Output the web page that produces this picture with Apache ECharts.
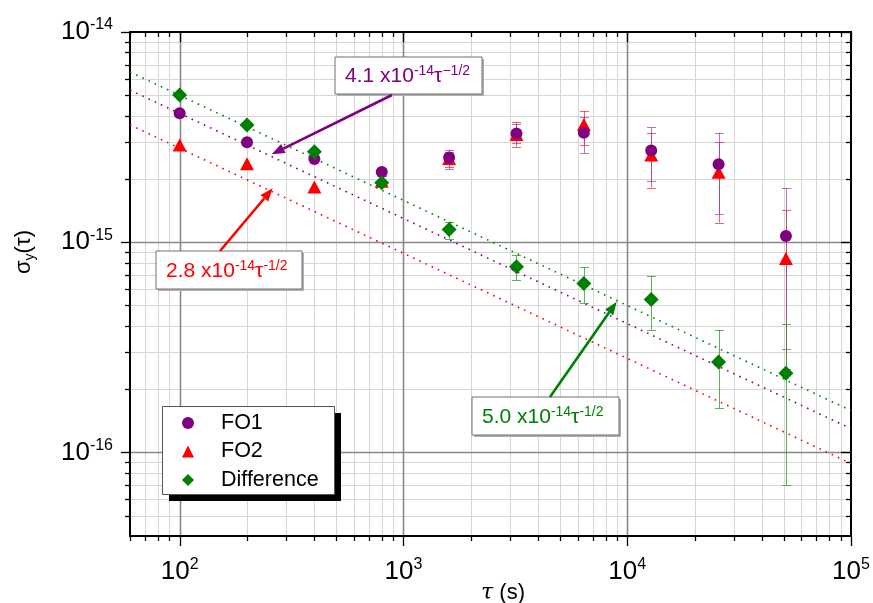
<!DOCTYPE html>
<html>
<head>
<meta charset="utf-8">
<script src="https://cdn.jsdelivr.net/npm/echarts@6/dist/echarts.min.js"></script>
<style>
html,body{margin:0;padding:0;background:#fff;}
#c{width:873px;height:603px;}
</style>
</head>
<body>
<div id="c"></div>
<script>
// ---------- data ----------
const tau = [100, 200, 400, 800, 1600, 3200, 6400, 12800, 25600, 51200];
const fo1 = [4.11e-15, 2.99e-15, 2.49e-15, 2.16e-15, 2.53e-15, 3.29e-15, 3.32e-15, 2.73e-15, 2.35e-15, 1.07e-15];
const fo2 = [2.9e-15, 2.36e-15, 1.83e-15, 1.95e-15, 2.5e-15, 3.25e-15, 3.63e-15, 2.6e-15, 2.15e-15, 8.36e-16];
const diff = [5.01e-15, 3.61e-15, 2.69e-15, 1.92e-15, 1.15e-15, 7.63e-16, 6.36e-16, 5.33e-16, 2.69e-16, 2.38e-16];

const fo1Lo = [null, null, null, 2.07e-15, 2.23e-15, 2.95e-15, 2.66e-15, 1.95e-15, 1.36e-15, 3.1e-16];
const fo1Hi = [null, null, null, 2.26e-15, 2.76e-15, 3.65e-15, 3.92e-15, 3.52e-15, 3.32e-15, 1.81e-15];
const fo2Lo = [null, null, null, null, 2.28e-15, 2.84e-15, 2.89e-15, 1.82e-15, 1.24e-15, 2.5e-16];
const fo2Hi = [null, null, null, null, 2.68e-15, 3.74e-15, 4.22e-15, 3.29e-15, 3.0e-15, 1.42e-15];
const diffLo = [null, null, null, null, 1.04e-15, 6.6e-16, 5.14e-16, 3.84e-16, 1.62e-16, 6.97e-17];
const diffHi = [null, null, null, null, 1.25e-15, 8.67e-16, 7.58e-16, 6.87e-16, 3.81e-16, 4.06e-16];

// fit lines  sigma = A * tau^-1/2, endpoints at tau = 60 and 1e5
const fitTau = [60, 100000];
const fitGreen = [6.455e-15, 1.581e-16];   // 5.0e-14
const fitPurple = [5.293e-15, 1.2965e-16]; // 4.1e-14
const fitRed = [3.615e-15, 8.854e-17];     // 2.8e-14

// axes
const X_MIN = 60, X_MAX = 100000, Y_MIN = 4e-17, Y_MAX = 1e-14;
const xMajor = [100, 1000, 10000];
const xMinor = [60, 70, 80, 90, 200, 300, 400, 500, 600, 700, 800, 900,
  2000, 3000, 4000, 5000, 6000, 7000, 8000, 9000,
  20000, 30000, 40000, 50000, 60000, 70000, 80000, 90000];
const yMajor = [1e-16, 1e-15];
const yMinor = [5e-17, 6e-17, 7e-17, 8e-17, 9e-17,
  2e-16, 3e-16, 4e-16, 5e-16, 6e-16, 7e-16, 8e-16, 9e-16,
  2e-15, 3e-15, 4e-15, 5e-15, 6e-15, 7e-15, 8e-15, 9e-15];
const xLabelVals = [100, 1000, 10000, 100000];
const xLabelExp = ['2', '3', '4', '5'];
const yLabelVals = [1e-14, 1e-15, 1e-16];
const yLabelExp = ['-14', '-15', '-16'];

const F = '"Liberation Sans", Arial, sans-serif';
const PURPLE = '#800080', RED = '#ff0000', GREEN = '#008000';

function errData(lo, hi) {
  const out = [];
  for (let i = 0; i < tau.length; i++) {
    if (lo[i] != null && hi[i] != null) out.push([tau[i], lo[i], hi[i]]);
  }
  return out;
}
function pairs(xs, ys) { return xs.map((x, i) => [x, ys[i]]); }

function errRender(color) {
  return function (params, api) {
    const x = api.value(0), lo = api.value(1), hi = api.value(2);
    const p1 = api.coord([x, hi]), p2 = api.coord([x, lo]);
    const cx = Math.round(p1[0]) + 0.5, cw = 4.5;
    const st = { stroke: color, lineWidth: 1 };
    return { type: 'group', children: [
      { type: 'line', shape: { x1: cx, y1: p1[1], x2: cx, y2: p2[1] }, style: st },
      { type: 'line', shape: { x1: cx - cw, y1: Math.round(p1[1]) + 0.5, x2: cx + cw, y2: Math.round(p1[1]) + 0.5 }, style: st },
      { type: 'line', shape: { x1: cx - cw, y1: Math.round(p2[1]) + 0.5, x2: cx + cw, y2: Math.round(p2[1]) + 0.5 }, style: st }
    ]};
  };
}

const tickRich = {
  b: { fontSize: 26, lineHeight: 30, fontFamily: F, fill: '#000' },
  e: { fontSize: 16, lineHeight: 16, verticalAlign: 'top', fontFamily: F, fill: '#000' }
};

function axesRender(params, api) {
  const c0 = api.coord([X_MIN, Y_MIN]), c1 = api.coord([X_MAX, Y_MAX]);
  const L = c0[0], B = c0[1], R = c1[0], T = c1[1];
  const ch = [];
  const px = v => Math.round(api.coord([v, Y_MIN])[0]) + 0.5;
  const py = v => Math.round(api.coord([X_MIN, v])[1]) + 0.5;
  // minor grid
  xMinor.forEach(v => { const x = px(v); ch.push({ type: 'line', shape: { x1: x, y1: T, x2: x, y2: B }, style: { stroke: '#d6d6d6', lineWidth: 1 } }); });
  yMinor.forEach(v => { const y = py(v); ch.push({ type: 'line', shape: { x1: L, y1: y, x2: R, y2: y }, style: { stroke: '#d6d6d6', lineWidth: 1 } }); });
  // major grid
  xMajor.forEach(v => { const x = px(v); ch.push({ type: 'line', shape: { x1: x, y1: T, x2: x, y2: B }, style: { stroke: '#888', lineWidth: 1.6 } }); });
  yMajor.forEach(v => { const y = py(v); ch.push({ type: 'line', shape: { x1: L, y1: y, x2: R, y2: y }, style: { stroke: '#888', lineWidth: 1.6 } }); });
  // ticks
  const tk = { stroke: '#000', lineWidth: 1.3 };
  xMinor.forEach(v => { const x = px(v);
    ch.push({ type: 'line', shape: { x1: x, y1: B, x2: x, y2: B + 5 }, style: tk });
    ch.push({ type: 'line', shape: { x1: x, y1: T, x2: x, y2: T + 5 }, style: tk }); });
  xMajor.concat([X_MAX]).forEach(v => { const x = px(v);
    ch.push({ type: 'line', shape: { x1: x, y1: B, x2: x, y2: B + 10 }, style: tk });
    ch.push({ type: 'line', shape: { x1: x, y1: T, x2: x, y2: T + 10 }, style: tk }); });
  yMinor.forEach(v => { const y = py(v);
    ch.push({ type: 'line', shape: { x1: L - 5, y1: y, x2: L, y2: y }, style: tk });
    ch.push({ type: 'line', shape: { x1: R - 5, y1: y, x2: R, y2: y }, style: tk }); });
  yMajor.concat([Y_MAX]).forEach(v => { const y = py(v);
    ch.push({ type: 'line', shape: { x1: L - 9, y1: y, x2: L, y2: y }, style: tk });
    ch.push({ type: 'line', shape: { x1: R - 10, y1: y, x2: R, y2: y }, style: tk }); });
  // frame
  ch.push({ type: 'rect', shape: { x: L, y: T, width: R - L, height: B - T }, style: { fill: 'none', stroke: '#000', lineWidth: 2 } });
  // labels
  xLabelVals.forEach((v, i) => {
    const x = api.coord([v, Y_MIN])[0];
    ch.push({ type: 'text', x: x, y: B + 21, style: { text: '{b|10}{e|' + xLabelExp[i] + '}', rich: tickRich, align: 'center', verticalAlign: 'top' } });
  });
  yLabelVals.forEach((v, i) => {
    const y = api.coord([X_MIN, v])[1];
    ch.push({ type: 'text', x: L - 17, y: y, style: { text: '{b|10}{e|' + yLabelExp[i] + '}', rich: tickRich, align: 'right', verticalAlign: 'middle' } });
  });
  return { type: 'group', children: ch };
}

function arrow(x1, y1, x2, y2, color) {
  const dx = x2 - x1, dy = y2 - y1, len = Math.hypot(dx, dy);
  const ux = dx / len, uy = dy / len, hl = 13, hw = 5;
  const bx = x2 - ux * hl, by = y2 - uy * hl, nx = -uy, ny = ux;
  return [
    { type: 'line', z: 6, shape: { x1: x1, y1: y1, x2: bx, y2: by }, style: { stroke: color, lineWidth: 2.6 } },
    { type: 'polygon', z: 6, shape: { points: [[x2, y2], [bx + nx * hw, by + ny * hw], [bx - nx * hw, by - ny * hw]] }, style: { fill: color } }
  ];
}
function annBox(x, y, w, h, color, coef, expTau) {
  return [
    { type: 'rect', z: 6, shape: { x: x + 2, y: y + 2, width: w, height: h }, style: { fill: '#b0b0b0' } },
    { type: 'rect', z: 6, shape: { x: x, y: y, width: w, height: h }, style: { fill: '#fff', stroke: '#707070', lineWidth: 1 } },
    { type: 'text', z: 7, x: x + 10, y: y + h / 2 + 1, style: {
      text: '{m|' + coef + ' x10}{s|-14}{m|τ}{s|' + expTau + '}',
      align: 'left', verticalAlign: 'middle', fill: color,
      rich: {
        m: { fontSize: 21, lineHeight: 24, fontFamily: F, fill: color },
        s: { fontSize: 14, lineHeight: 10, verticalAlign: 'top', fontFamily: F, fill: color }
      } } }
  ];
}

const graphics = [].concat(
  annBox(335, 57, 147, 37, PURPLE, '4.1', '\u22121/2'),
  arrow(392, 95, 271.7, 154.3, PURPLE),
  annBox(156, 251, 146, 38, RED, '2.8', '-1/2'),
  arrow(220, 251, 272.7, 188.3, RED),
  annBox(472, 397, 147, 38, GREEN, '5.0', '-1/2'),
  arrow(550, 397, 616.7, 301.7, GREEN),
  [
    // legend frame + shadow
    { type: 'rect', z: 3, shape: { x: 169, y: 413, width: 172, height: 88 }, style: { fill: '#000' } },
    { type: 'rect', z: 3, shape: { x: 162.5, y: 406.5, width: 172, height: 88 }, style: { fill: '#fff', stroke: '#555', lineWidth: 1 } },
    // axis titles
    { type: 'text', z: 7, x: 24, y: 252, rotation: Math.PI / 2, style: {
      text: '{a|σ}{b|y}{a|(τ)}', align: 'center', verticalAlign: 'middle',
      rich: { a: { fontSize: 22, lineHeight: 26, fontFamily: F, fill: '#000' },
              b: { fontSize: 14, lineHeight: 14, verticalAlign: 'bottom', fontFamily: F, fill: '#000' } } } },
    { type: 'text', z: 7, x: 503, y: 593, style: {
      text: '{i|τ}{a| (s)}', align: 'center', verticalAlign: 'middle',
      rich: { i: { fontSize: 22, fontStyle: 'italic', fontFamily: '"DejaVu Serif", serif', fill: '#000' },
              a: { fontSize: 22, fontFamily: F, fill: '#000' } } } }
  ]
);

const chart = echarts.init(document.getElementById('c'), null, { renderer: 'canvas' });
chart.setOption({
  animation: false,
  backgroundColor: '#fff',
  grid: { left: 130, top: 32, width: 721, height: 504, containLabel: false },
  xAxis: { type: 'log', logBase: 10, min: X_MIN, max: X_MAX,
    axisLine: { show: false }, axisTick: { show: false }, axisLabel: { show: false }, splitLine: { show: false } },
  yAxis: { type: 'log', logBase: 10, min: Y_MIN, max: Y_MAX,
    axisLine: { show: false }, axisTick: { show: false }, axisLabel: { show: false }, splitLine: { show: false } },
  legend: {
    orient: 'vertical', left: 182, top: 412, padding: 0,
    itemWidth: 12, itemHeight: 12, itemGap: 6.5, selectedMode: false, z: 10,
    data: [
      { name: 'FO1', icon: 'circle' },
      { name: 'FO2', icon: 'triangle' },
      { name: 'Difference', icon: 'diamond' }
    ],
    formatter: '{n|{name}}',
    textStyle: { color: '#000', fontFamily: F, fontSize: 21.5,
      rich: { n: { fontSize: 21.5, lineHeight: 20, fontFamily: F, color: '#000', padding: [0, 0, 0, 22] } } }
  },
  graphic: { elements: graphics },
  series: [
    { type: 'custom', name: 'axes', renderItem: axesRender, data: [[100, 1e-15]], silent: true, z: 1,
      encode: { x: 0, y: 1 } },
    { type: 'line', name: 'fit5.0', data: pairs(fitTau, fitGreen), symbol: 'none', silent: true,
      lineStyle: { color: GREEN, width: 1.6, type: [1.6, 5.2] } },
    { type: 'line', name: 'fit4.1', data: pairs(fitTau, fitPurple), symbol: 'none', silent: true,
      lineStyle: { color: PURPLE, width: 1.6, type: [1.6, 5.2] } },
    { type: 'line', name: 'fit2.8', data: pairs(fitTau, fitRed), symbol: 'none', silent: true,
      lineStyle: { color: RED, width: 1.6, type: [1.6, 5.2] } },
    { type: 'custom', name: 'errFO2', renderItem: errRender('rgba(255,40,40,0.75)'), data: errData(fo2Lo, fo2Hi),
      encode: { x: 0, y: [1, 2] }, silent: true },
    { type: 'custom', name: 'errFO1', renderItem: errRender('rgba(150,60,160,0.7)'), data: errData(fo1Lo, fo1Hi),
      encode: { x: 0, y: [1, 2] }, silent: true },
    { type: 'custom', name: 'errDiff', renderItem: errRender('rgba(40,150,40,0.75)'), data: errData(diffLo, diffHi),
      encode: { x: 0, y: [1, 2] }, silent: true },
    { type: 'scatter', name: 'FO2', data: pairs(tau, fo2), symbol: 'triangle', symbolSize: [14, 13],
      itemStyle: { color: RED, opacity: 1 } },
    { type: 'scatter', name: 'FO1', data: pairs(tau, fo1), symbol: 'circle', symbolSize: 12,
      itemStyle: { color: PURPLE, opacity: 1 } },
    { type: 'scatter', name: 'Difference', data: pairs(tau, diff), symbol: 'diamond', symbolSize: 15,
      itemStyle: { color: GREEN, opacity: 1 } }
  ]
});
</script>
</body>
</html>
